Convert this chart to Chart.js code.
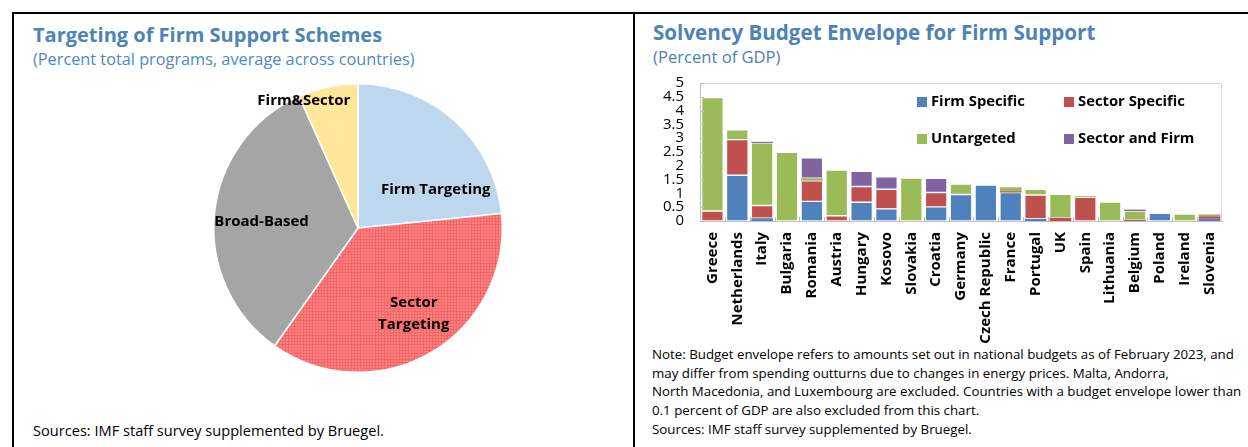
<!DOCTYPE html>
<html>
<head>
<meta charset="utf-8">
<script src="https://cdn.jsdelivr.net/npm/chart.js@4"></script>
<style>
  body { margin: 0; width: 1248px; height: 447px; background: #fff; overflow: hidden; font-family: "Open Sans", sans-serif; }
  .line { position: absolute; background: #000; }
  .txt { position: absolute; white-space: nowrap; }
  .title { font-weight: bold; color: #4E83B5; }
  .sub { color: #5089C0; }
  .note { font-size: 13.3px; color: #000; line-height: 18.7px; }
  canvas { position: absolute; }
</style>
</head>
<body>
<div class="line" style="left:12px;top:12px;width:1236px;height:2px"></div>
<div class="line" style="left:12px;top:12px;width:2px;height:435px"></div>
<div class="line" style="left:633px;top:12px;width:2px;height:435px"></div>

<div class="txt title" style="left:33px;top:21px;font-size:20px">Targeting of Firm Support Schemes</div>
<div class="txt sub" style="left:33px;top:48px;font-size:16.3px">(Percent total programs, average across countries)</div>
<div class="txt" style="left:33px;top:420px;font-size:14.6px">Sources: IMF staff survey supplemented by Bruegel.</div>

<div class="txt title" style="left:653px;top:18px;font-size:20.6px">Solvency Budget Envelope for Firm Support</div>
<div class="txt sub" style="left:653px;top:45px;font-size:16.6px;color:#4E7FAF">(Percent of GDP)</div>
<div class="txt note" style="left:652px;top:345px">Note: Budget envelope refers to amounts set out in national budgets as of February 2023, and<br>may differ from spending outturns due to changes in energy prices. Malta, Andorra,<br>North Macedonia, and Luxembourg are excluded. Countries with a budget envelope lower than<br>0.1 percent of GDP are also excluded from this chart.<br>Sources: IMF staff survey supplemented by Bruegel.</div>

<canvas id="pie" style="left:198px;top:68px;width:320px;height:320px"></canvas>
<canvas id="bars" style="left:640px;top:58px;width:600px;height:298px"></canvas>

<script>
// left chart: share of programs
const pieLabels = ['Firm Targeting', 'Sector Targeting', 'Broad-Based', 'Firm&Sector'];
const pieValues = [23.4, 36.4, 33.5, 6.7];

// right chart: budget envelope, percent of GDP
const countries = ['Greece', 'Netherlands', 'Italy', 'Bulgaria', 'Romania', 'Austria', 'Hungary', 'Kosovo', 'Slovakia', 'Croatia', 'Germany', 'Czech Republic', 'France', 'Portugal', 'UK', 'Spain', 'Lithuania', 'Belgium', 'Poland', 'Ireland', 'Slovenia'];
const firmSpecific   = [0, 1.66, 0.10, 0, 0.71, 0, 0.68, 0.44, 0, 0.51, 0.96, 1.30, 1.03, 0.08, 0, 0, 0, 0, 0.28, 0, 0.08];
const sectorSpecific = [0.36, 1.29, 0.46, 0, 0.75, 0.19, 0.57, 0.71, 0, 0.52, 0, 0, 0.05, 0.86, 0.12, 0.86, 0, 0.05, 0, 0, 0.09];
const untargeted     = [4.11, 0.35, 2.27, 2.49, 0.09, 1.66, 0, 0, 1.56, 0, 0.38, 0, 0.14, 0.21, 0.85, 0.04, 0.69, 0.31, 0, 0.25, 0.07];
const sectorAndFirm  = [0, 0, 0.04, 0, 0.74, 0, 0.55, 0.45, 0, 0.52, 0, 0, 0, 0, 0, 0, 0, 0.05, 0, 0, 0];

// red slice has a fine hatch in the original
function hatch() {
    const c = document.createElement('canvas');
    c.width = 3; c.height = 3;
    const g = c.getContext('2d');
    g.fillStyle = '#FF8080';
    g.fillRect(0, 0, 3, 3);
    g.fillStyle = '#F26767';
    g.fillRect(0, 0, 3, 1);
    g.fillRect(0, 0, 1, 3);
    return g.createPattern(c, 'repeat');
}

// where each pie label sits: angle clockwise from top (deg), fraction of radius
const pieLabelSpots = [{a: 64, r: 0.6}, {a: 147, r: 0.71}, {a: 274, r: 0.67}, {a: 337, r: 0.96}];

const pieLabelPlugin = {
    id: 'pieLabels',
    afterDatasetsDraw(chart) {
        const ctx = chart.ctx;
        const arcs = chart.getDatasetMeta(0).data;
        ctx.save();
        ctx.font = 'bold 15px "Open Sans"';
        ctx.fillStyle = '#000';
        ctx.textAlign = 'center';
        ctx.textBaseline = 'middle';
        arcs.forEach(function(arc, i) {
            const spot = pieLabelSpots[i];
            const ang = (spot.a - 90) * Math.PI / 180;
            const x = arc.x + Math.cos(ang) * arc.outerRadius * spot.r;
            const y = arc.y + Math.sin(ang) * arc.outerRadius * spot.r;
            const words = pieLabels[i] === 'Sector Targeting' ? ['Sector', 'Targeting'] : [pieLabels[i]];
            words.forEach(function(w, k) {
                ctx.fillText(w, x, y + (k - (words.length - 1) / 2) * 22);
            });
        });
        ctx.restore();
    }
};

new Chart(document.getElementById('pie'), {
    type: 'pie',
    data: {
        labels: pieLabels,
        datasets: [{
            data: pieValues,
            backgroundColor: ['#BDD7EE', hatch(), '#A5A5A5', '#FFE699'],
            borderColor: '#fff',
            borderWidth: 1.5
        }]
    },
    options: {
        responsive: false,
        animation: false,
        layout: { padding: 15 },
        plugins: { legend: { display: false }, tooltip: { enabled: false } }
    },
    plugins: [pieLabelPlugin]
});

// legend drawn inside the plot, two columns
const legendSpots = [{dx: 217, dy: 19}, {dx: 364, dy: 19}, {dx: 217, dy: 56}, {dx: 364, dy: 56}];

const barExtras = {
    id: 'barExtras',
    afterDraw(chart) {
        const ctx = chart.ctx;
        const area = chart.chartArea;
        ctx.save();
        ctx.strokeStyle = '#D9D9D9';
        ctx.lineWidth = 1;
        ctx.beginPath();
        ctx.moveTo(area.left, area.top + 0.5);
        ctx.lineTo(area.right - 0.5, area.top + 0.5);
        ctx.lineTo(area.right - 0.5, area.bottom);
        ctx.stroke();

        // small inward ticks
        ctx.strokeStyle = '#BFBFBF';
        const ys = chart.scales.y;
        ys.ticks.forEach(function(t) {
            const y = Math.round(ys.getPixelForValue(t.value)) + 0.5;
            ctx.beginPath();
            ctx.moveTo(area.left, y);
            ctx.lineTo(area.left + 4, y);
            ctx.stroke();
        });
        const xs = chart.scales.x;
        for (let i = 1; i < countries.length; i++) {
            const x = Math.round((xs.getPixelForValue(i - 1) + xs.getPixelForValue(i)) / 2) + 0.5;
            ctx.beginPath();
            ctx.moveTo(x, area.bottom);
            ctx.lineTo(x, area.bottom - 4);
            ctx.stroke();
        }

        ctx.font = 'bold 14.8px "Open Sans"';
        ctx.textBaseline = 'middle';
        chart.data.datasets.forEach(function(ds, i) {
            const x = area.left + legendSpots[i].dx;
            const y = area.top + legendSpots[i].dy;
            ctx.fillStyle = ds.backgroundColor;
            ctx.fillRect(x, y - 5, 10, 10);
            ctx.fillStyle = '#000';
            ctx.fillText(ds.label, x + 14, y);
        });
        ctx.restore();
    }
};

function series(label, values, color) {
    return {
        label: label,
        data: values,
        backgroundColor: color,
        borderColor: 'rgba(255,255,255,0.45)',
        // thin slivers would turn white with an outline
        borderWidth: function(c) { return c.raw < 0.15 ? 0 : 0.7; },
        borderSkipped: false,
        barPercentage: 0.87,
        categoryPercentage: 1
    };
}

new Chart(document.getElementById('bars'), {
    type: 'bar',
    data: {
        labels: countries,
        datasets: [
            series('Firm Specific', firmSpecific, '#4F81BD'),
            series('Sector Specific', sectorSpecific, '#C0504D'),
            series('Untargeted', untargeted, '#9BBB59'),
            series('Sector and Firm', sectorAndFirm, '#8064A2')
        ]
    },
    options: {
        responsive: false,
        animation: false,
        layout: { padding: { top: 7, right: 18 } },
        plugins: { legend: { display: false }, tooltip: { enabled: false } },
        scales: {
            x: {
                stacked: true,
                grid: { display: false },
                border: { color: '#BFBFBF' },
                afterFit(scale) { scale.height = 135; },
                ticks: {
                    autoSkip: false,
                    minRotation: 90,
                    maxRotation: 90,
                    padding: 3,
                    color: '#000',
                    font: { family: 'Open Sans', size: 15, weight: 'bold' }
                }
            },
            y: {
                stacked: true,
                min: 0,
                max: 5,
                grid: { display: false, drawTicks: false },
                border: { color: '#BFBFBF' },
                afterFit(scale) { scale.width = 60; },
                ticks: {
                    stepSize: 0.5,
                    autoSkip: false,
                    padding: 16,
                    color: '#000',
                    font: { family: 'Open Sans', size: 15 },
                    callback: function(v) { return String(Math.round(v * 10) / 10); }
                }
            }
        }
    },
    plugins: [barExtras]
});
</script>
</body>
</html>
